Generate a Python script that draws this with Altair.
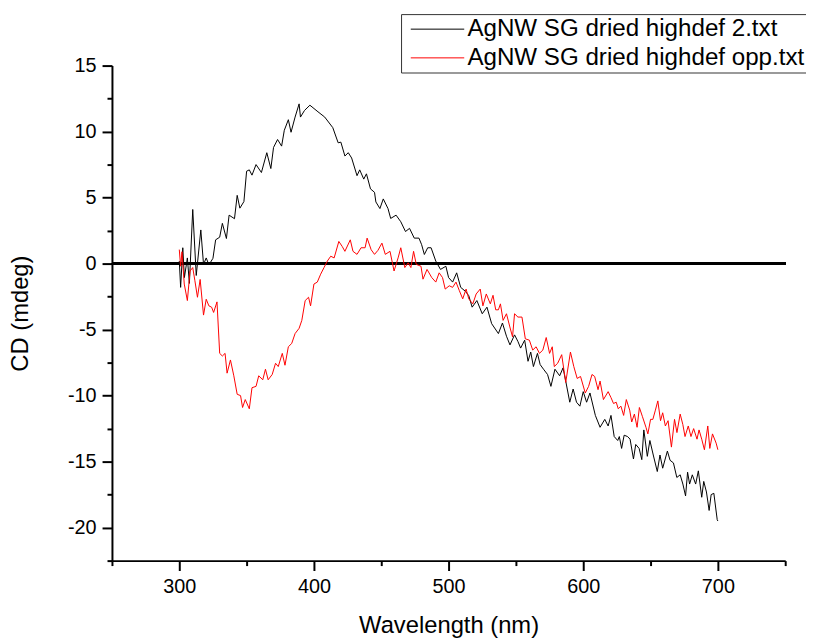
import altair as alt
import pandas as pd

FONT = "Liberation Sans"
names = ["AgNW SG dried highdef 2.txt", "AgNW SG dried highdef opp.txt"]

black_wl = [300, 301, 302.6, 303.8, 306, 307.5, 310, 312.6, 316, 318, 320, 322, 325, 327, 330, 332, 335, 337, 341, 343,
            345, 348, 350, 352, 354, 357, 361, 365, 368, 370, 373, 376, 378, 381, 383, 386, 389, 390, 393, 397, 403, 408, 414,
            418, 420, 423, 425.5, 428, 432, 434, 437, 439, 442, 445, 446, 449, 451.5, 455, 457, 461, 464.5, 468, 471, 474.5,
            478, 480, 482, 484.5, 487, 490.5, 494, 498, 500, 503, 506, 509, 512.5, 515, 517.5, 521, 525, 528.5, 532,
            537, 540, 543, 545.6, 549, 551.5, 553.5, 556.5, 559, 561, 563, 566, 568, 570.5, 573.5, 576, 579, 582.5, 585, 587,
            590, 592.5, 595, 597.5, 600, 602.5, 605, 609, 612.5, 616, 618.5,
            620.6, 623, 625.6, 626.8, 628.5, 630.4, 632.9, 634.8, 637.3, 639, 641.5, 643.5, 645, 647.6, 649.5, 652, 655, 657,
            659, 662.5, 664.5, 667, 669.5, 672, 674, 676, 677.5, 679, 681, 683.5, 685.5, 688, 689.5, 691.5, 693.5, 695, 697,
            699.5, 700]
black_cd = [0.2, -1.8, 1.2, -1.06, 0.43, -1.5, 4.1, -0.9, 2.55, -0.06, 0.43, -0.1, 0.4, 1.8, 2.0, 3.05, 1.9, 3.67, 3.4, 5.17,
            4.2, 4.7, 7.0, 7.1, 6.7, 7.5, 6.9, 8.4, 7.2, 8.8, 9.4, 8.9, 10.1, 10.9, 9.95, 11.1, 12.1, 11.1, 11.6, 12.0, 11.5, 11.1, 10.3,
            9.15, 9.2, 8.15, 8.4, 8.0, 6.66, 7.1, 6.4, 6.8, 5.66, 5.4, 4.67, 4.17, 4.9, 4.17, 3.42, 3.67, 3.17, 2.43, 2.67, 1.93,
            1.93, 1.43, 0.69, 1.2, 1.2, 0.19, -0.44, -0.2, -1.06, -1.4, -0.7, -1.8, -2.1, -2.43, -3.3, -2.8, -3.8, -3.3, -4.55,
            -5.3, -4.5, -5.5, -6.16, -5.4, -5.9, -6.4, -5.8, -7.4, -6.7, -7.8, -6.8, -7.65, -8.0, -8.4, -9.3, -8.0, -8.5, -7.9, -8.9,
            -10.5, -9.5, -10.5, -10.8, -9.7, -10.5, -9.8, -11.5, -12.4, -11.8, -12.3,
            -11.5, -13.1, -13.4, -13.1, -14.0, -13.0, -13.1, -13.3, -14.8, -13.7, -14.0, -14.85, -12.6, -14.6, -13.4, -14.5, -15.75, -14.5,
            -15.5, -14.2, -14.9, -15.1, -16.2, -16.0, -16.7, -17.6, -15.8, -16.7, -16.0, -16.7, -15.7, -17.7, -16.5, -17.3, -18.7, -17.5, -17.4,
            -19.4, -19.5]

red_wl = [300, 301, 302, 303.7, 306, 308, 310, 311.6, 313.5, 315.5, 318, 320, 322, 324, 325.5, 328, 330, 332, 334, 335.5,
          338, 340.5, 343, 345.5, 347, 349, 352, 354, 357, 359, 362, 364, 366, 369, 371.5, 373.5, 376.5, 378.5, 381, 383.5,
          386, 389, 391, 393.5, 396, 397.5, 400, 402.5, 405, 407.5, 410, 412.5, 415,
          418.5, 421, 423, 427, 429, 432, 435, 438, 439.5, 442.5, 445, 447.5, 450.5, 453, 456.5, 459.5, 462.5, 464.5, 467.5,
          470, 472, 474, 476, 479.5, 481, 484, 487.5, 490.5, 493, 495.5, 497.5, 500.5, 503, 505.5, 508, 510.5, 513, 515, 518,
          520.5, 523.5, 525.5, 528, 531,
          533, 535, 537, 538.5, 540.5, 543, 545.5, 547.5, 549, 551.5, 554.5, 557, 560, 562.5, 565, 567.5, 570, 572.5, 575, 577,
          578.5, 581, 584, 587, 590.5, 593, 595.5, 598, 601.5, 604, 606.5, 608.5, 611, 612.5, 615, 618.5,
          620.6, 622.5, 624.5, 626, 628, 630, 632, 634.5, 636, 638, 640, 641.7, 644, 646.6, 648, 650, 651.7, 653.6, 655.4, 657.4,
          659, 661, 663, 665.5, 667.8, 669.6, 672, 674, 675.6, 678, 680, 682, 684.5, 686, 688, 690, 692.5, 694, 696, 698.7, 700]
red_cd = [1.06, -0.2, 0.9, -1.55, -2.8, -0.56, -0.3, -1.3, -2.55, -1.2, -3.9, -2.7, -3.2, -3.3, -3.7, -2.9, -6.8, -7.0, -6.8, -8.3,
          -7.3, -8.5, -9.9, -10.0, -10.9, -10.3, -11.0, -9.4, -9.3, -8.5, -8.8, -8.0, -8.8, -8.4, -7.55, -7.8, -6.8, -7.7, -6.3, -6.05,
          -5.3, -4.9, -4.3, -2.8, -2.55, -3.2, -1.55, -1.4, -0.8, -0.3, 0.2, 0.56, 0.43,
          1.68, 1.3, 0.93, 1.8, 0.93, 0.7, 1.2, 1.2, 1.93, 1.05, 0.7, 1.0, 1.55, 0.7, 0.93, -0.56, 0.43, 1.2, -0.3,
          0.06, -0.3, 0.93, -0.06, -0.2, -1.18, -0.44, -1.06, -1.4, -0.7, -1.06, -1.93, -1.68, -1.8, -1.4, -2.05, -2.67, -1.93, -2.67, -3.05,
          -2.3, -1.93, -3.2, -2.3, -3.05,
          -2.4, -3.5, -3.5, -3.05, -4.3, -3.8, -4.8, -5.55, -3.8, -4.05, -4.05, -5.7, -5.8, -6.55, -6.3, -6.8, -6.55, -5.6, -6.8, -6.3,
          -7.8, -7.55, -6.9, -9.0, -6.7, -7.8, -8.7, -8.55, -9.8, -9.3, -8.4, -8.55, -9.55, -8.9, -10.3, -9.7,
          -10.15, -10.6, -10.5, -11.0, -10.8, -11.5, -10.3, -11.1, -12.0, -11.4, -12.4, -10.9, -11.6, -12.4, -12.9, -11.8, -11.8, -11.1, -10.4, -11.9,
          -11.3, -12.3, -11.9, -13.9, -11.8, -12.8, -11.4, -12.2, -13.1, -12.3, -13.1, -12.5, -13.3, -12.6, -13.3, -14.1, -12.3, -14.0, -12.9, -13.6, -14.1]

x_major = [300, 400, 500, 600, 700]
x_minor = [250, 350, 450, 550, 650, 750]
y_major = [-20, -15, -10, -5, 0, 5, 10, 15]
y_minor = [-22.5, -17.5, -12.5, -7.5, -2.5, 2.5, 7.5, 12.5]

df = pd.concat([
    pd.DataFrame({"wl": black_wl, "cd": black_cd, "series": names[0], "idx": range(len(black_wl))}),
    pd.DataFrame({"wl": red_wl, "cd": red_cd, "series": names[1], "idx": range(len(red_wl))}),
], ignore_index=True)

xscale = alt.Scale(domain=[250, 750], nice=False, zero=False)
yscale = alt.Scale(domain=[-22.5, 15], nice=False, zero=False)

common = dict(labelFont=FONT, titleFont=FONT, labelColor="black", titleColor="black",
              tickColor="black", domainColor="black", grid=False)

ax_x = alt.Axis(values=x_major, orient="bottom", title="Wavelength (nm)", labelExpr="datum.value",
                tickSize=10, tickWidth=2, domainWidth=2, labelPadding=6, labelFontSize=20,
                titleFontSize=24, titleFontWeight="normal", titlePadding=18, **common)
ax_y = alt.Axis(values=y_major, orient="left", title="CD (mdeg)", labelExpr="datum.value",
                tickSize=10, tickWidth=2, domainWidth=2, labelPadding=6, labelFontSize=20,
                titleFontSize=24, titleFontWeight="normal", titlePadding=35, **common)
ax_x_minor = alt.Axis(values=x_minor, orient="bottom", title="", labels=False, domain=False,
                      tickSize=5, tickWidth=2, **common)
ax_y_minor = alt.Axis(values=y_minor, orient="left", title="", labels=False, domain=False,
                      tickSize=5, tickWidth=2, **common)

lines = alt.Chart(df).mark_line(strokeWidth=1).encode(
    x=alt.X("wl:Q", scale=xscale, axis=ax_x),
    y=alt.Y("cd:Q", scale=yscale, axis=ax_y),
    color=alt.Color("series:N", scale=alt.Scale(domain=names, range=["#000000", "#ff0000"]),
                    legend=alt.Legend(orient="none", legendX=292, legendY=-52, title=None,
                                      symbolType="M-5,0H5", symbolSize=116.6, symbolStrokeWidth=1,
                                      symbolOffset=21.6,
                                      labelFont=FONT, labelFontSize=24.4, labelColor="black",
                                      labelOffset=18, strokeColor="#333333", padding=3,
                                      rowPadding=4, labelLimit=500)),
    order=alt.Order("idx:Q"),
)

minor = alt.Chart(df).mark_point(opacity=0).encode(
    x=alt.X("wl:Q", scale=xscale, axis=ax_x_minor),
    y=alt.Y("cd:Q", scale=yscale, axis=ax_y_minor),
)

zero = alt.Chart(df).mark_rule(color="black", strokeWidth=2).encode(
    y=alt.YDatum(0, scale=yscale, axis=None),
)

chart = alt.layer(minor, zero, lines).resolve_axis(x="independent", y="independent").properties(
    width=680, height=500,
    background="white",
    autosize=alt.AutoSizeParams(type="none"),
    padding={"left": 105, "top": 55, "right": 21, "bottom": 76},
).configure_view(stroke=None, strokeWidth=0).configure_axis(grid=False)

chart.save("out.html", embed_options={"renderer": "svg", "actions": False})
